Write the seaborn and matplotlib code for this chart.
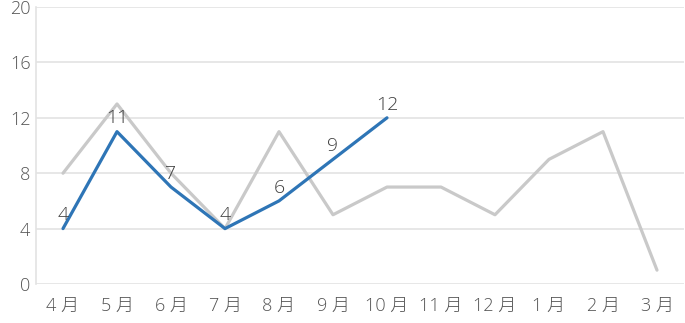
import matplotlib
matplotlib.use("Agg")
import matplotlib.pyplot as plt
import seaborn as sns
import pandas as pd
import numpy as np

months = ["4月", "5月", "6月", "7月", "8月", "9月", "10月", "11月", "12月", "1月", "2月", "3月"]
prev_year = [8, 13, 8, 4, 11, 5, 7, 7, 5, 9, 11, 1]
this_year = [4, 11, 7, 4, 6, 9, 12]
y_ticks = [0, 4, 8, 12, 16, 20]

sns.set_theme(style="white")
plt.rcParams['font.family'] = ['Open Sans', 'Noto Sans CJK JP', 'DejaVu Sans']

fig = plt.figure(figsize=(6.85, 3.23), dpi=100)
ax = fig.add_axes([36/685, 1-284/323, 648/685, (284-7)/323])

x_all = np.arange(len(months))
df_prev = pd.DataFrame({"x": x_all, "y": prev_year})
df_this = pd.DataFrame({"x": x_all[:len(this_year)], "y": this_year})

sns.lineplot(data=df_prev, x="x", y="y", ax=ax, color="#C9C9C9", linewidth=2.3)
sns.lineplot(data=df_this, x="x", y="y", ax=ax, color="#2E75B6", linewidth=2.3)

for xi, yi in zip(df_this["x"], df_this["y"]):
    ax.annotate(str(yi), (xi, yi), xytext=(0, 3), textcoords="offset points",
                ha="center", va="bottom", fontsize=14, color="#404040",
                fontweight="light")

ax.set_xlim(-0.5, len(months) - 0.5)
ax.set_ylim(0, 20)
ax.set_yticks(y_ticks)
ax.set_yticklabels([str(t) for t in y_ticks], fontweight="light")
ax.set_xticks(x_all)
ax.set_xticklabels([m.replace("月", " 月") for m in months], fontweight="light")
ax.tick_params(axis="both", length=0, labelsize=13, colors="#555555")
ax.tick_params(axis="x", pad=9)
ax.tick_params(axis="y", pad=4)
ax.set_xlabel("")
ax.set_ylabel("")
ax.grid(axis="y", color="#E3E3E3", linewidth=1.2)
ax.set_axisbelow(True)
for s in ["top", "right", "bottom"]:
    ax.spines[s].set_visible(False)
ax.spines["left"].set_color("#E3E3E3")
ax.spines["left"].set_linewidth(1.2)

fig.savefig("out.png", dpi=100)
